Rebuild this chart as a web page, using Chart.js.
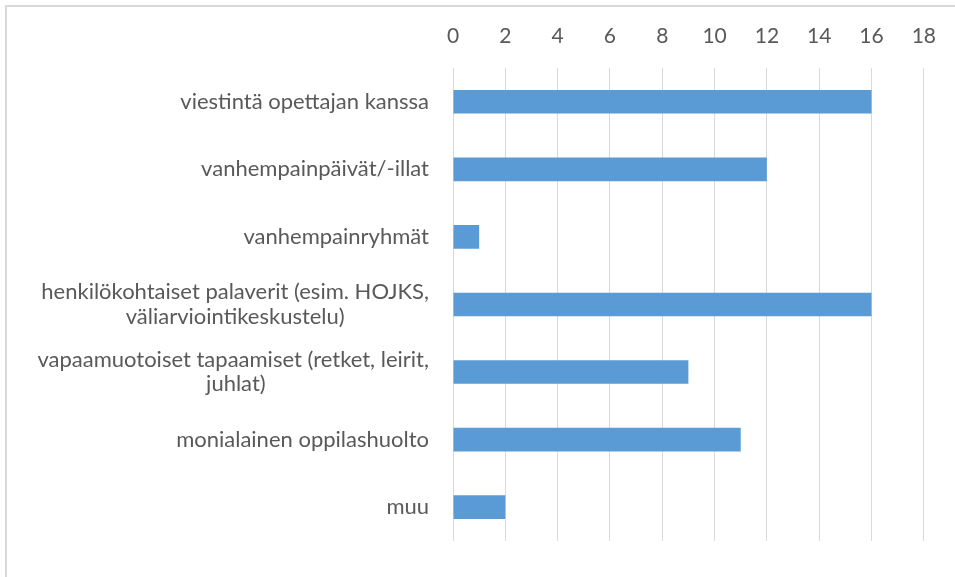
<!DOCTYPE html>
<html><head><meta charset="utf-8">
<script src="https://cdn.jsdelivr.net/npm/chart.js@4"></script>
<style>
html,body{margin:0;padding:0;background:#fff;overflow:hidden;}
#wrap{position:relative;width:955px;height:577px;overflow:hidden;}
#frame{position:absolute;left:5px;top:5px;width:1000px;height:1000px;border:2px solid #d9d9d9;box-sizing:border-box;}
canvas{position:absolute;left:0;top:0;}
</style></head><body>
<div id="wrap"><div id="frame"></div><canvas id="c" width="955" height="577"></canvas></div>
<script>
const categories = [
  ['viestintä opettajan kanssa'],
  ['vanhempainpäivät/-illat'],
  ['vanhempainryhmät'],
  ['henkilökohtaiset palaverit (esim. HOJKS,', 'väliarviointikeskustelu)'],
  ['vapaamuotoiset tapaamiset (retket, leirit,', 'juhlat)'],
  ['monialainen oppilashuolto'],
  ['muu']
];
const values = [16, 12, 1, 16, 9, 11, 2];
const xMin = 0;
const xMax = 18;
const xStep = 2;

const FONT_FAMILY = 'Lato';
const LABEL_SIZE = 22;
const TICK_SIZE = 21;
const TEXT_COLOR = '#595959';

function centerLines(lines) {
  if (lines.length < 2) return lines[0];
  const ctx = document.createElement('canvas').getContext('2d');
  ctx.font = LABEL_SIZE + 'px ' + FONT_FAMILY;
  const sw = ctx.measureText(' ').width;
  const widths = lines.map(l => ctx.measureText(l).width);
  const maxW = Math.max(...widths);
  return lines.map((l, i) => l + ' '.repeat(Math.round((maxW - widths[i]) / 2 / sw)));
}

new Chart(document.getElementById('c'), {
  type: 'bar',
  data: {
    labels: categories.map(c => c.join(' ')),
    datasets: [{
      data: values,
      backgroundColor: '#5B9BD5',
      borderWidth: 0,
      barPercentage: 0.35,
      categoryPercentage: 1
    }]
  },
  options: {
    indexAxis: 'y',
    responsive: false,
    devicePixelRatio: 1,
    animation: false,
    layout: { padding: { left: 0, right: 30, top: 0, bottom: 24 } },
    plugins: { legend: { display: false }, tooltip: { enabled: false } },
    scales: {
      x: {
        position: 'top',
        min: xMin,
        max: xMax,
        ticks: {
          stepSize: xStep,
          padding: 19,
          color: TEXT_COLOR,
          font: { family: FONT_FAMILY, size: TICK_SIZE, lineHeight: 1.2 }
        },
        grid: { color: '#d9d9d9', lineWidth: 1, drawTicks: false },
        border: { display: false },
        afterFit: s => { s.height = 68; }
      },
      y: {
        ticks: {
          padding: 24,
          color: TEXT_COLOR,
          font: { family: FONT_FAMILY, size: LABEL_SIZE, lineHeight: 1.1 },
          callback: (v, i) => centerLines(categories[i])
        },
        grid: { display: false, drawTicks: false },
        border: { display: false },
        afterFit: s => { s.width = 453; }
      }
    }
  }
});
</script>
</body></html>
